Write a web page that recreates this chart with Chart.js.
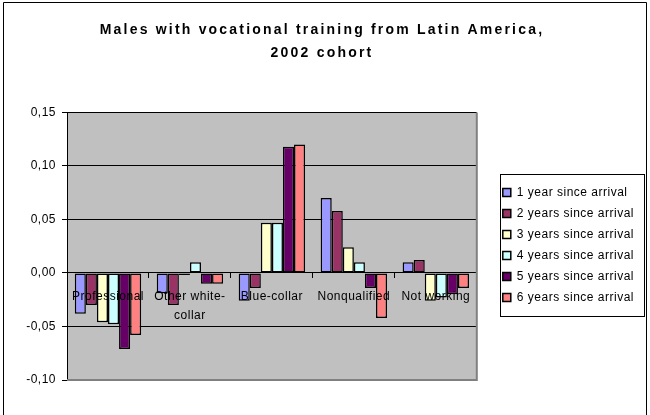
<!DOCTYPE html>
<html>
<head>
<meta charset="utf-8">
<style>
html,body{margin:0;padding:0;background:#fff;}
#wrap{width:650px;height:415px;position:relative;}
</style>
<script src="https://cdn.jsdelivr.net/npm/chart.js@4/dist/chart.umd.min.js"></script>
</head>
<body>
<div id="wrap"><canvas id="c" width="650" height="415"></canvas></div>
<script>
// ---- data ----
const titleLines = ['Males with vocational training from Latin America,', '2002 cohort'];
const categories = ['Professional', ['Other white-', 'collar'], 'Blue-collar', 'Nonqualified', 'Not working'];
const seriesNames = ['1 year since arrival', '2 years since arrival', '3 years since arrival',
                     '4 years since arrival', '5 years since arrival', '6 years since arrival'];
const year1 = [-0.038, -0.019, -0.026, 0.070, 0.010];
const year2 = [-0.030, -0.030, -0.014, 0.058, 0.012];
const year3 = [-0.046, -0.002, 0.047, 0.024, -0.026];
const year4 = [-0.048, 0.010, 0.047, 0.010, -0.023];
const year5 = [-0.071, -0.010, 0.118, -0.014, -0.020];
const year6 = [-0.058, -0.010, 0.120, -0.042, -0.014];
const yMin = -0.10, yMax = 0.15, yStep = 0.05;

// ---- styles ----
const seriesColors = ['#9999FF', '#993366', '#FFFFCC', '#CCFFFF', '#660066', '#FF8080'];
const FONT = '"Liberation Sans", Arial, sans-serif';
const seriesValues = [year1, year2, year3, year4, year5, year6];

const datasets = seriesValues.map((vals, i) => ({
  label: seriesNames[i],
  data: vals,
  backgroundColor: seriesColors[i],
  borderColor: '#000000',
  borderWidth: 1.5,
  borderSkipped: false,
  categoryPercentage: 0.81,
  barPercentage: 1.0
}));

const deco = {
  id: 'deco',
  afterInit(chart) {
    const tb = chart.titleBlock;
    if (tb) {
      const orig = tb.draw.bind(tb);
      tb.draw = function (...a) {
        const c = chart.ctx;
        const p = c.letterSpacing;
        c.letterSpacing = '2.2px';
        orig(...a);
        c.letterSpacing = p;
      };
    }
  },
  beforeLayout(chart) { chart.ctx.letterSpacing = '0.5px'; },
  beforeDraw(chart) {
    const {ctx, chartArea: a} = chart;
    ctx.save();
    ctx.fillStyle = '#ffffff';
    ctx.fillRect(0, 0, chart.width, chart.height);
    ctx.fillStyle = '#C0C0C0';
    ctx.fillRect(a.left, a.top, a.right - a.left, a.bottom - a.top);
    ctx.restore();
    ctx.letterSpacing = '0.5px';
  },
  afterDraw(chart) {
    const {ctx, chartArea: a} = chart;
    ctx.save();
    // plot area right & bottom edges (gray)
    ctx.strokeStyle = '#808080';
    ctx.lineWidth = 2;
    ctx.beginPath();
    ctx.moveTo(a.right, a.top);
    ctx.lineTo(a.right, a.bottom);
    ctx.lineTo(a.left, a.bottom);
    ctx.stroke();
    // legend frame
    const hb = chart.legend.legendHitBoxes;
    if (hb && hb.length) {
      const l = Math.min(...hb.map(h => h.left));
      const t = Math.min(...hb.map(h => h.top));
      const r = Math.max(...hb.map(h => h.left + h.width));
      const b = Math.max(...hb.map(h => h.top + h.height));
      ctx.strokeStyle = '#000000';
      ctx.lineWidth = 1;
      ctx.strokeRect(Math.round(l - 3) + 0.5, Math.round(t - 13) + 0.5,
                     Math.round(r - l + 13), Math.round(b - t + 25));
    }
    // outer chart frame
    ctx.strokeStyle = '#000000';
    ctx.lineWidth = 1;
    ctx.beginPath();
    ctx.moveTo(3.5, chart.height + 2);
    ctx.lineTo(3.5, 2.5);
    ctx.lineTo(646.5, 2.5);
    ctx.lineTo(646.5, chart.height + 2);
    ctx.stroke();
    ctx.restore();
  }
};

new Chart(document.getElementById('c'), {
  type: 'bar',
  data: { labels: categories, datasets },
  plugins: [deco],
  options: {
    responsive: false,
    animation: false,
    devicePixelRatio: 1,
    layout: { padding: { left: 0, top: 0, right: 6, bottom: 35 } },
    plugins: {
      title: {
        display: true,
        text: titleLines,
        color: '#000000',
        font: { family: FONT, size: 14, weight: 'bold', lineHeight: 1.64 },
        padding: { top: 18.5, bottom: 48 }
      },
      legend: {
        display: true,
        position: 'right',
        maxWidth: 220,
        title: {
          display: true,
          text: '',
          font: { family: FONT, size: 10, lineHeight: 1 },
          padding: { top: 100, bottom: 0 }
        },
        labels: {
          color: '#000000',
          font: { family: FONT, size: 12 },
          boxWidth: 8,
          boxHeight: 8,
          padding: 9
        }
      },
      tooltip: { enabled: false }
    },
    scales: {
      x: {
        type: 'category',
        position: { y: 0 },
        offset: true,
        grid: { display: true, offset: true, drawOnChartArea: false, drawTicks: true, tickLength: 5, color: '#000000' },
        border: { display: true, color: '#000000', width: 1 },
        ticks: {
          z: 1,
          color: '#000000',
          font: { family: FONT, size: 12, lineHeight: 1.6 },
          padding: 9,
          maxRotation: 0,
          minRotation: 0,
          autoSkip: false
        }
      },
      y: {
        type: 'linear',
        position: 'left',
        min: yMin,
        max: yMax,
        afterFit(s) { s.width = 67; },
        grid: { display: true, color: '#000000', lineWidth: 1, drawTicks: true, tickLength: 5, tickColor: '#000000' },
        border: { display: true, color: '#000000', width: 1 },
        ticks: {
          stepSize: yStep,
          color: '#000000',
          font: { family: FONT, size: 12 },
          padding: 6,
          callback: v => v.toFixed(2).replace('.', ',')
        }
      },
      spacer: {
        type: 'linear',
        position: 'right',
        display: true,
        afterFit(s) { s.width = 17; },
        grid: { display: false, drawTicks: false },
        border: { display: false },
        ticks: { display: false }
      }
    }
  }
});
</script>
</body>
</html>
